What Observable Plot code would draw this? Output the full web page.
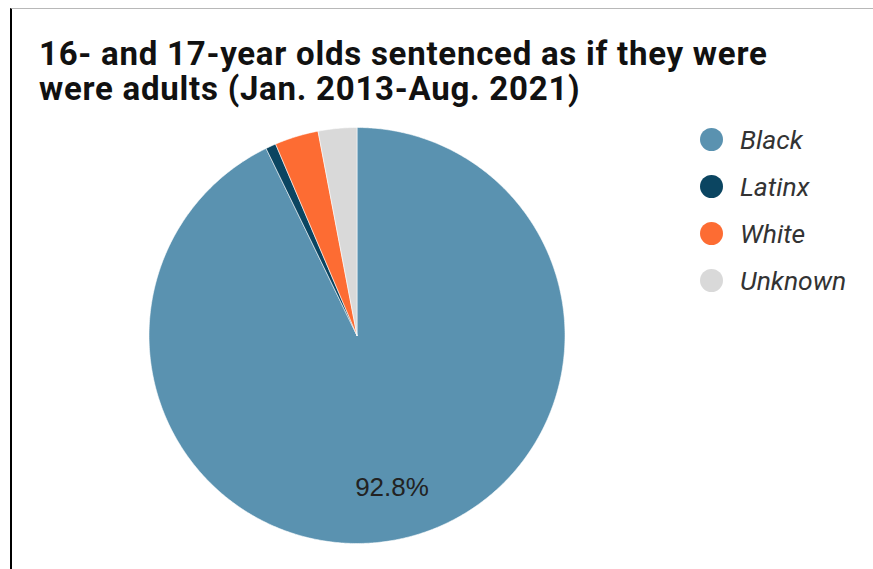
<!DOCTYPE html>
<html>
<head>
<meta charset="utf-8">
<script src="https://cdn.jsdelivr.net/npm/d3@7"></script>
<script src="https://cdn.jsdelivr.net/npm/@observablehq/plot@0.6"></script>
<style>
  html, body { margin: 0; padding: 0; background: #fff; }
  body { width: 873px; height: 569px; overflow: hidden; position: relative; }
  #frame {
    position: absolute; left: 10px; top: 8px; width: 863px; height: 561px;
    border-top: 1px solid #b8b8b8; border-left: 2px solid #000; box-sizing: border-box;
  }
  #title {
    font-family: Roboto, sans-serif; font-weight: 700; font-size: 33px; line-height: 35px; letter-spacing: 0.75px;
    color: #111; padding: 27px 0 0 27px; height: 102px; box-sizing: border-box; margin: 0; white-space: nowrap;
  }
  #legend { position: absolute; left: 0; top: 0; }
  .item { position: absolute; display: flex; align-items: center; }
  .dot { width: 23px; height: 23px; border-radius: 50%; }
  .lab { font-family: Roboto, sans-serif; font-style: italic; font-size: 26.5px; color: #333; margin-left: 17px; }
</style>
</head>
<body>
<div id="frame">
  <div id="title"><div>16- and 17-year olds sentenced as if they were</div><div>were adults (Jan. 2013-Aug. 2021)</div></div>
  <div id="chart"></div>
</div>
<div id="legend"></div>
<script>
const categories = ["Black", "Latinx", "White", "Unknown"];
const shares = [92.8, 0.8, 3.4, 3.0];
const colors = ["#5a92b0", "#0b4561", "#fd6c33", "#d9d9d9"];
const labelText = ["92.8%", "", "", ""];

const data = categories.map((c, i) => ({cat: c, value: shares[i], label: labelText[i]}));
const arcs = d3.pie().sort(null).value(d => d.value)(data);

const pts = [];
arcs.forEach(a => {
  pts.push({cat: a.data.cat, x: 0, y: 0});
  const n = Math.max(2, Math.ceil((a.endAngle - a.startAngle) / (Math.PI / 360)));
  for (let k = 0; k <= n; k++) {
    const t = a.startAngle + (a.endAngle - a.startAngle) * k / n;
    pts.push({cat: a.data.cat, x: Math.sin(t), y: Math.cos(t)});
  }
  pts.push({cat: a.data.cat, x: 0, y: 0});
});
const labels = arcs.filter(a => a.data.label).map(a => {
  const m = (a.startAngle + a.endAngle) / 2;
  return {x: 0.75 * Math.sin(m), y: 0.75 * Math.cos(m), text: a.data.label};
});

const W = 861, H = 458, cx = 344.5, cy = 224, R = 208;
const plot = Plot.plot({
  width: W, height: H, margin: 0,
  style: {background: "transparent", overflow: "visible"},
  x: {domain: [-1, 1], range: [cx - R, cx + R], axis: null},
  y: {domain: [-1, 1], range: [cy + R, cy - R], axis: null},
  color: {domain: categories, range: colors},
  marks: [
    Plot.line(pts, {x: "x", y: "y", z: "cat", fill: "cat", stroke: "white", strokeWidth: 0.8, strokeOpacity: 0.7, curve: "linear"}),
    Plot.text(labels, {x: "x", y: "y", text: "text", fill: "#222", fontSize: 26, fontFamily: "Liberation Sans, Arial, sans-serif"})
  ]
});
document.getElementById("chart").appendChild(plot);

const color = plot.scale("color");
const legend = document.getElementById("legend");
categories.forEach((c, i) => {
  const item = document.createElement("div");
  item.className = "item";
  item.style.left = "700px";
  item.style.top = (139 + i * 47 - 16) + "px";
  item.style.height = "32px";
  const dot = document.createElement("div");
  dot.className = "dot";
  dot.style.background = color.apply(c);
  const lab = document.createElement("span");
  lab.className = "lab";
  lab.textContent = c;
  item.appendChild(dot); item.appendChild(lab);
  legend.appendChild(item);
});
</script>
</body>
</html>
